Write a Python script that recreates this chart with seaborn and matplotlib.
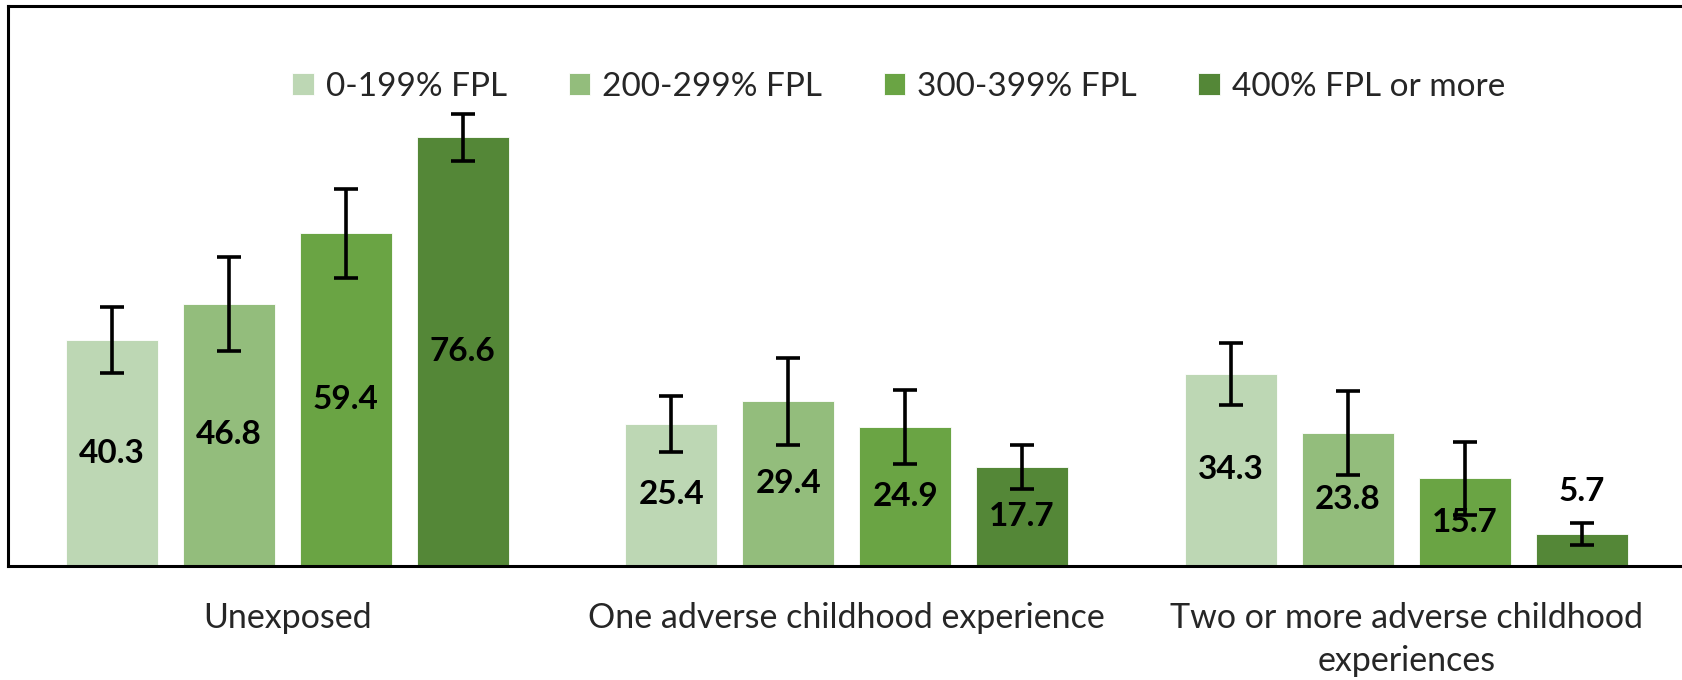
import numpy as np
import pandas as pd
import matplotlib
matplotlib.use("Agg")
import matplotlib.pyplot as plt
import seaborn as sns

groups = ["Unexposed", "One adverse childhood experience",
          "Two or more adverse childhood\nexperiences"]
incomes = ["0-199% FPL", "200-299% FPL", "300-399% FPL", "400% FPL or more"]
# values per income level, across the three groups
v_0_199 = [40.3, 25.4, 34.3]
v_200_299 = [46.8, 29.4, 23.8]
v_300_399 = [59.4, 24.9, 15.7]
v_400_plus = [76.6, 17.7, 5.7]
# error bar half-widths
e_0_199 = [5.9, 5.0, 5.6]
e_200_299 = [8.4, 7.8, 7.5]
e_300_399 = [7.9, 6.6, 6.5]
e_400_plus = [4.2, 4.0, 2.0]
colors = ["#BDD7B4", "#93BD7C", "#6AA444", "#548737"]

values = [v_0_199, v_200_299, v_300_399, v_400_plus]
errors = [e_0_199, e_200_299, e_300_399, e_400_plus]

rows = []
for inc, vals in zip(incomes, values):
    for g, v in zip(groups, vals):
        rows.append({"group": g, "income": inc, "pct": v})
df = pd.DataFrame(rows)

sns.set_style("white")
plt.rcParams["font.family"] = ["Lato", "DejaVu Sans"]

fig = plt.figure(figsize=(16.83, 6.8), dpi=100)
ax = fig.add_axes([0.00446, 0.1676, 0.9973, 0.8235])

sns.barplot(data=df, x="group", y="pct", hue="income", order=groups,
            hue_order=incomes, palette=colors, width=0.836, gap=0.215,
            errorbar=None, saturation=1, ax=ax, edgecolor="white", linewidth=0.6)

for cont, errs in zip(ax.containers, errors):
    xs = [p.get_x() + p.get_width() / 2 for p in cont.patches]
    hs = [p.get_height() for p in cont.patches]
    ax.errorbar(xs, hs, yerr=errs, fmt="none", ecolor="black",
                elinewidth=2.6, capsize=8.5, capthick=2.6, zorder=5)
    inside = [f"{h:.1f}" if h >= 10 else "" for h in hs]
    outside = [f"{h:.1f}" if h < 10 else "" for h in hs]
    ax.bar_label(cont, labels=inside, label_type="center", fontsize=24,
                 fontweight="bold", color="black")
    ax.bar_label(cont, labels=outside, label_type="edge", padding=20,
                 fontsize=24, fontweight="bold", color="black")

ax.set_xlim(-0.5, 2.5)
ax.set_ylim(0, 100)
ax.set_xlabel("")
ax.set_ylabel("")
ax.set_yticks([])
ax.tick_params(axis="x", length=0, pad=26, labelsize=24.5)
for lab in ax.get_xticklabels():
    lab.set_linespacing(1.42)
    lab.set_verticalalignment("top")

for side in ["top", "left", "bottom"]:
    ax.spines[side].set_visible(True)
    ax.spines[side].set_color("black")
    ax.spines[side].set_linewidth(2.2)
ax.spines["right"].set_visible(False)

handles, labels = ax.get_legend_handles_labels()
ax.legend(handles, labels, loc="center", bbox_to_anchor=(0.534, 0.872),
          bbox_transform=fig.transFigure, ncol=4, frameon=False, fontsize=24,
          handlelength=0.65, handleheight=0.65, handletextpad=0.35,
          columnspacing=1.85)

fig.savefig("out.png", dpi=100)
